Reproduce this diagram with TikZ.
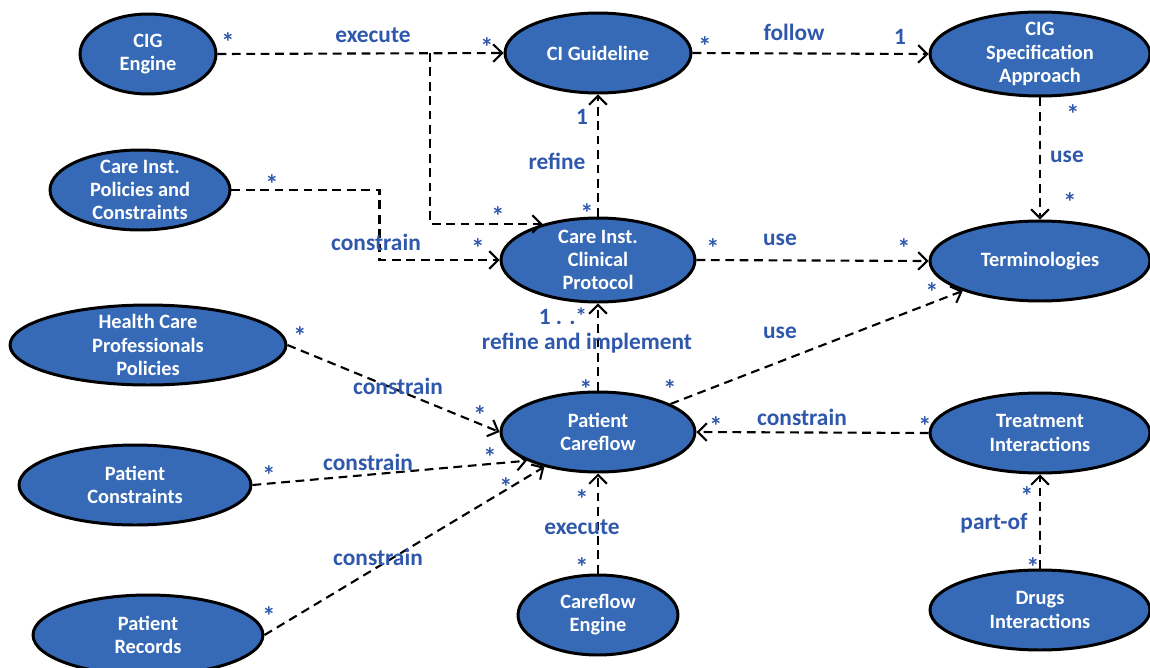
\documentclass[tikz,border=0pt]{standalone}
\usepackage{fontspec}
\setmainfont{Carlito}
\usepackage{xcolor}
\usetikzlibrary{arrows.meta,shapes.geometric}
\definecolor{ucfill}{RGB}{54,106,182}
\definecolor{lblblue}{RGB}{47,88,172}
\tikzset{usecase/.style={ellipse,draw=black,line width=1.7pt,fill=ucfill,inner sep=0pt,minimum height=1.6cm}}
\tikzset{uctext/.style={text=white,font=\fontsize{11.6}{13.2}\selectfont\bfseries,align=center}}
\tikzset{assoc/.style={dash pattern=on 5pt off 3.2pt,line width=1.2pt,-{Straight Barb[length=5pt,width=10pt]}}}
\tikzset{lbl/.style={text=lblblue,font=\fontsize{13.3}{15}\selectfont\bfseries,inner sep=0pt}}
\tikzset{multst/.style={lbl,font=\fontsize{15}{17}\selectfont\bfseries,yshift=-2.5pt}}

\begin{document}
\begin{tikzpicture}[x=0.02cm,y=-0.02cm]
    \useasboundingbox (0,0) rectangle (1150,667);
    % use cases
    \node[usecase,minimum width=2.72cm,label={[uctext]center:CIG\\Engine}] (cigengine) at (148,54) {};
    \node[usecase,minimum width=3.72cm,label={[uctext]center:CI Guideline}] (ciguide) at (598,53) {};
    \node[usecase,minimum width=4.4cm,minimum height=1.68cm,label={[uctext]center:CIG\\Specification\\Approach}] (cigspec) at (1040,54) {};
    \node[usecase,minimum width=3.6cm,label={[uctext]center:Care Inst.\\Policies and\\Constraints}] (carepol) at (140,190) {};
    \node[usecase,minimum width=3.88cm,minimum height=1.68cm,label={[uctext]center:Care Inst.\\Clinical\\Protocol}] (protocol) at (598,260) {};
    \node[usecase,minimum width=4.4cm,label={[uctext]center:Terminologies}] (termin) at (1040,261) {};
    \node[usecase,minimum width=5.52cm,label={[uctext]center:Health Care\\Professionals\\Policies}] (hcppol) at (148,345) {};
    \node[usecase,minimum width=3.88cm,label={[uctext]center:Patient\\Careflow}] (careflow) at (598,432) {};
    \node[usecase,minimum width=4.4cm,label={[uctext]center:Treatment\\Interactions}] (treatint) at (1040,433) {};
    \node[usecase,minimum width=4.64cm,label={[uctext]center:Patient\\Constraints}] (ptcons) at (135,485) {};
    \node[usecase,minimum width=4.6cm,label={[uctext]center:Patient\\Records}] (ptrec) at (148,635) {};
    \node[usecase,minimum width=3.2cm,label={[uctext]center:Careflow\\Engine}] (cfengine) at (598,615) {};
    \node[usecase,minimum width=4.4cm,label={[uctext]center:Drugs\\Interactions}] (drugint) at (1040,610) {};

    % associations
    \coordinate (fork) at (430,53);
    \draw[assoc] (cigengine.east) -- (ciguide.west);
    \draw[assoc] (fork) |- (protocol.147);
    \draw[assoc] (carepol.east) -- ++(148,0) |- (protocol.west);
    \draw[assoc] (ciguide.east) -- (cigspec.west);
    \draw[assoc] (protocol.north) -- (ciguide.south);
    \draw[assoc] (cigspec.south) -- (termin.north);
    \draw[assoc] (protocol.east) -- (termin.west);
    \draw[assoc] (careflow.north) -- (protocol.south);
    \draw[assoc] (careflow) -- (termin);
    \draw[assoc] (hcppol.east) -- (careflow.west);
    \draw[assoc] (ptcons.east) -- (careflow.202);
    \draw[assoc] (ptrec.east) -- (careflow.213);
    \draw[assoc] (cfengine.north) -- (careflow.south);
    \draw[assoc] (treatint.west) -- (careflow.east);
    \draw[assoc] (drugint.north) -- (treatint.south);

    % labels
    \node[lbl] (l-exec1) at (373,35) {execute};
    \node[lbl] (l-follow) at (794,32) {follow};
    \node[lbl] (l-refine) at (557,161) {refine};
    \node[lbl] (l-use1) at (1067,157) {use};
    \node[lbl] (l-use2) at (780,240) {use};
    \node[lbl] (l-cons1) at (376,242) {constrain};
    \node[lbl] (l-impl) at (587,343) {refine and implement};
    \node[lbl] (l-use3) at (780,333) {use};
    \node[lbl] (l-cons2) at (398,386) {constrain};
    \node[lbl] (l-cons3) at (802,417) {constrain};
    \node[lbl] (l-cons4) at (368,462) {constrain};
    \node[lbl] (l-cons5) at (378,557) {constrain};
    \node[lbl] (l-exec2) at (582,527) {execute};
    \node[lbl] (l-partof) at (994,523) {part-of};

    % multiplicities
    \node[lbl] (m-one1) at (900,37) {1};
    \node[lbl] (m-one2) at (582,117) {1};
    \node[lbl] (m-many) at (563,316) {1 . .*};
    \foreach \x/\y [count=\i] in {228/38,487/43,705/42,587/209,498/212,272/180,478/244,713/244,904/244,1073/110,1070/198,586/385,670/385,932/288,300/332,480/411,269/471,490/453,269/612,506/483,582/495,582/563,716/422,925/422,1027/492,1033/563}
        \node[multst] (m\i) at (\x,\y) {*};
\end{tikzpicture}
\end{document}
